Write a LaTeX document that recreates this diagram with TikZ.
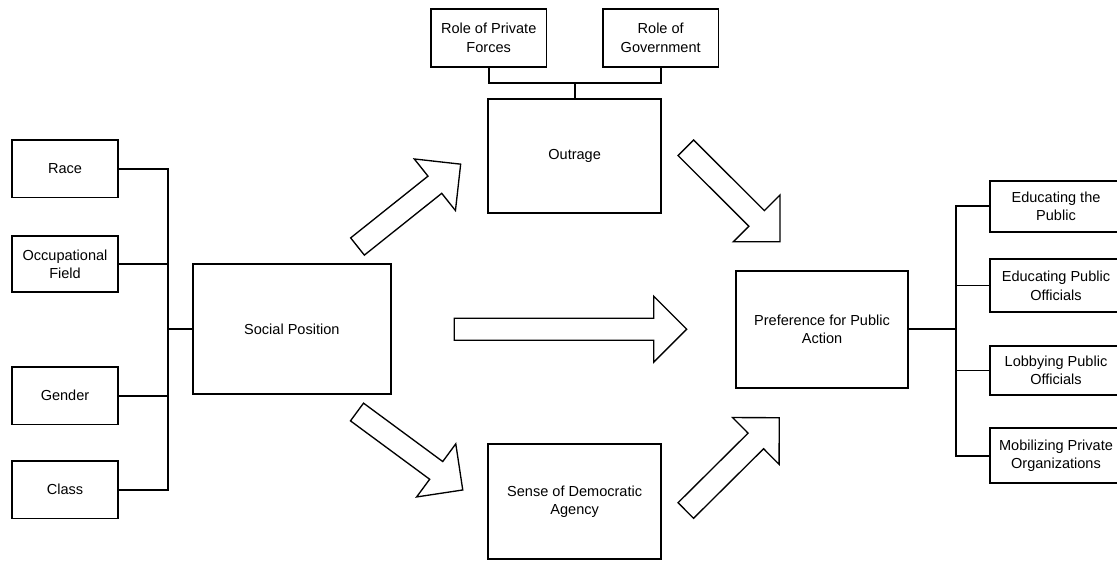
\documentclass[tikz,border=0pt]{standalone}
\usepackage{fontspec}
\setmainfont{Liberation Sans}
\newcommand{\fatarrow}[3]{%
  \begin{scope}[shift={#1},rotate=#2]
    \draw[arrowline] (0,-11) -- ({#3-33},-11) -- ({#3-33},-33) -- (#3,0)
      -- ({#3-33},33) -- ({#3-33},11) -- (0,11) -- cycle;
  \end{scope}}

\begin{document}
\begin{tikzpicture}[x=0.75pt,y=-0.75pt,
  box/.style={draw,line width=1.3pt,align=center,inner sep=2pt,
    font=\fontsize{10.9}{13.7}\selectfont},
  sidebox/.style={box,minimum width=79.5pt},
  bigbox/.style={box,minimum width=129.5pt},
  outbox/.style={box,minimum width=99pt},
  topbox/.style={box,minimum width=86.5pt,minimum height=43.3pt},
  wire/.style={line width=1.3pt},
  arrowline/.style={line width=1pt,line join=miter,fill=white}]

  \clip (0,0) rectangle (1117,561);

  \node[sidebox,minimum height=43.1pt] (race) at (65,168.75) {Race};
  \node[sidebox,minimum height=42pt] (occ) at (65,264) {Occupational\\Field};
  \node[sidebox,minimum height=43.1pt] (gender) at (65,395.75) {Gender};
  \node[sidebox,minimum height=43.1pt] (class) at (65,489.75) {Class};

  \node[box,minimum width=148.3pt,minimum height=98pt] (social) at (291.85,329) {Social Position};

  \node[topbox] (private) at (488.7,37.85) {Role of Private\\Forces};
  \node[topbox] (govt) at (660.7,37.85) {Role of\\Government};
  \node[bigbox,minimum height=86pt] (outrage) at (574.65,156) {Outrage};
  \node[bigbox,minimum height=86.25pt] (agency) at (574.65,501.8) {Sense of Democratic\\Agency};
  \node[bigbox,minimum height=87.75pt] (pref) at (822,329.2) {Preference for Public\\Action};

  \node[outbox,minimum height=38pt] (edpublic) at (1056,206.35) {Educating the\\Public};
  \node[outbox,minimum height=39.75pt] (edofficials) at (1056,285.8) {Educating Public\\Officials};
  \node[outbox,minimum height=36.75pt] (lobby) at (1056,370.5) {Lobbying Public\\Officials};
  \node[outbox,minimum height=41.25pt] (mobilize) at (1056,455.8) {Mobilizing Private\\Organizations};

  \coordinate (lbus) at (167.7,329);
  \draw[wire] (race.east) -| (lbus) |- (class.east);
  \draw[wire] (occ.east) -- (occ.east -| lbus);
  \draw[wire] (gender.east) -- (gender.east -| lbus);
  \draw[wire] (lbus) -- (social.west);

  \coordinate (tbus) at (574.65,82.7);
  \draw[wire] (private.south) |- (tbus) -| (govt.south);
  \draw[wire] (tbus) -- (outrage.north);

  \coordinate (rbus) at (955.7,329.2);
  \draw[wire] (edpublic.west) -| (rbus) |- (mobilize.west);
  \draw[line width=0.7pt] (edofficials.west) -- (edofficials.west -| rbus);
  \draw[wire] (lobby.west) -- (lobby.west -| rbus);
  \draw[wire] (pref.east) -- (rbus);

  \fatarrow{(357.5,246.5)}{38.6}{132}
  \fatarrow{(357,412)}{-36.4}{131.4}
  \fatarrow{(454.3,329.2)}{0}{232.4}
  \fatarrow{(685.8,147.8)}{-44.9}{133}
  \fatarrow{(685.8,510.5)}{44.8}{131.7}

\end{tikzpicture}
\end{document}
